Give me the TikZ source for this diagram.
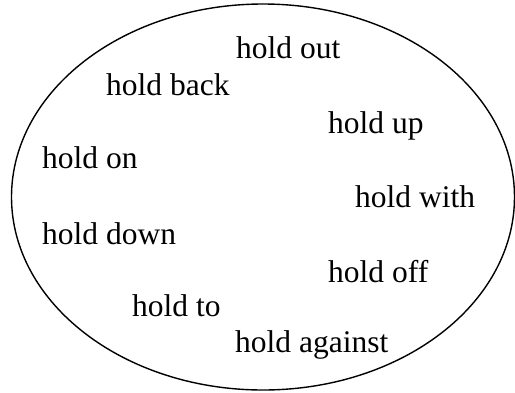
\documentclass[tikz,border=0pt]{standalone}
\usepackage{fontspec}
\setmainfont{Liberation Serif}
\usetikzlibrary{positioning}

\begin{document}
\begin{tikzpicture}[
      x=1pt, y=1pt,
      phrase/.style = {anchor=base west, inner sep=0pt,
        font=\fontsize{31.5}{36}\selectfont
      },
      rim/.style={draw=black, line width=1.4pt} % outline of the set
    ]
        \useasboundingbox (0,0) rectangle (515,-392);
        \draw[rim] (263,-197) ellipse [x radius=251.5pt, y radius=193pt];

        \node[phrase] (out)     at (236,-58)  {hold out};
        \node[phrase] (back)    at (106,-95)  {hold back};
        \node[phrase] (up)      at (328,-133) {hold up};
        \node[phrase] (on)      at (42,-168)  {hold on};
        \node[phrase] (with)    at (355,-207) {hold with};
        \node[phrase] (down)    at (42,-244)  {hold down};
        \node[phrase] (off)     at (328,-282) {hold off};
        \node[phrase] (to)      at (132,-316) {hold to};
        \node[phrase] (against) at (235,-352) {hold against};
    \end{tikzpicture}
\end{document}
